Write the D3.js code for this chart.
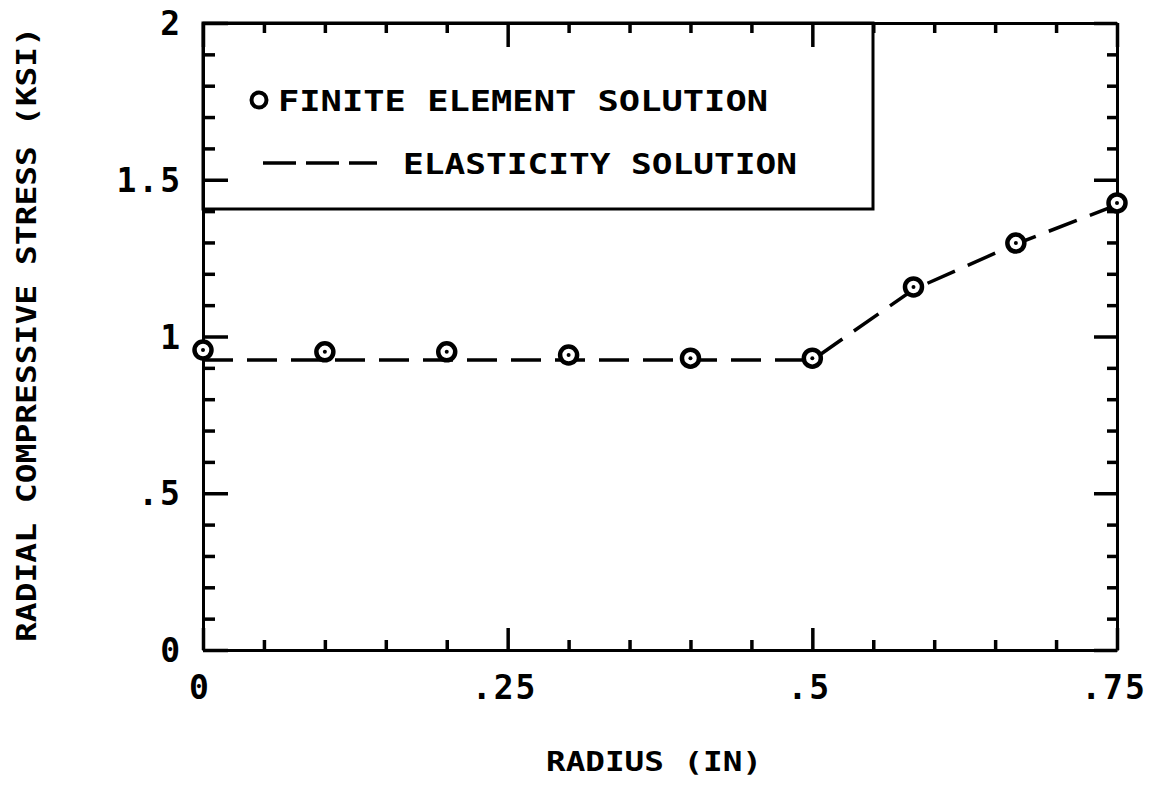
<!DOCTYPE html>
<html>
<head>
<meta charset="utf-8">
<script src="https://cdn.jsdelivr.net/npm/d3@7"></script>
<style>
  body { margin: 0; background: #fff; }
  text { font-family: "DejaVu Sans Mono", monospace; font-weight: bold; fill: #000; }
</style>
</head>
<body>
<svg id="chart"></svg>
<script>
// finite element points
const feRadius = [0, 0.1, 0.2, 0.3, 0.4, 0.5, 0.583, 0.667, 0.75];
const feStress = [0.957, 0.951, 0.951, 0.941, 0.931, 0.931, 1.158, 1.298, 1.426];

// elasticity solution (dashed)
const elRadius = [0, 0.5, 0.583, 0.667, 0.75];
const elStress = [0.925, 0.925, 1.15, 1.295, 1.42];

const xTicks = [0, 0.25, 0.5, 0.75];
const xTickLabels = ["0", ".25", ".5", ".75"];
const yTicks = [0, 0.5, 1, 1.5, 2];
const yTickLabels = ["0", ".5", "1", "1.5", "2"];

const width = 1151, height = 786;
const svg = d3.select("#chart").attr("width", width).attr("height", height);

const x = d3.scaleLinear().domain([0, 0.75]).range([203, 1117]);
const y = d3.scaleLinear().domain([0, 2]).range([650, 23]);

const xMinor = d3.range(0, 0.7501, 0.05);
const yMinor = d3.range(0, 2.0001, 0.1);
const isMajor = (v, list) => list.some(t => Math.abs(t - v) < 1e-6);

// legend box (behind the axes ticks)
svg.append("rect")
    .attr("x", x(0)).attr("y", y(2))
    .attr("width", 873 - x(0)).attr("height", 209 - y(2))
    .attr("fill", "#fff").attr("stroke", "#000").attr("stroke-width", 3);

// inward ticks on all four sides
const axB = d3.axisBottom(x), axT = d3.axisTop(x), axL = d3.axisLeft(y), axR = d3.axisRight(y);
function addAxis(axis, transform, minorVals, majorVals, majorLen, minorLen) {
    const g = svg.append("g").attr("transform", transform)
        .call(axis.tickValues(minorVals).tickFormat("").tickSizeOuter(0).tickSize(0));
    g.selectAll(".tick line")
        .attr("stroke-width", 3.5)
        .each(function(d) {
            const len = isMajor(d, majorVals) ? majorLen : minorLen;
            const l = d3.select(this);
            if (axis === axB || axis === axT) l.attr("y2", axis === axB ? -len : len);
            else l.attr("x2", axis === axL ? len : -len);
        });
    g.select(".domain").attr("stroke-width", 3);
    return g;
}
addAxis(axB, `translate(0,${y(0)})`, xMinor, xTicks, 22, 10);
addAxis(axT, `translate(0,${y(2)})`, xMinor, xTicks, 24, 10);
addAxis(axL, `translate(${x(0)},0)`, yMinor, yTicks, 25, 12);
addAxis(axR, `translate(${x(0.75)},0)`, yMinor, yTicks, 23, 10);

// tick labels
svg.append("g").selectAll("text")
    .data(xTicks)
    .join("text")
    .attr("x", d => x(d) - 3)
    .attr("y", 699)
    .attr("text-anchor", "middle")
    .style("font-size", "33px")
    .style("letter-spacing", "2px")
    .text((d, i) => xTickLabels[i]);

svg.append("g").selectAll("text")
    .data(yTicks)
    .join("text")
    .attr("x", 182)
    .attr("y", d => y(d) + 12)
    .attr("text-anchor", "end")
    .style("font-size", "33px")
    .style("letter-spacing", "2px")
    .text((d, i) => yTickLabels[i]);

// axis titles
svg.append("text")
    .attr("x", 546).attr("y", 771)
    .attr("textLength", 216).attr("lengthAdjust", "spacingAndGlyphs")
    .style("font-size", "26px")
    .text("RADIUS (IN)");

svg.append("text")
    .attr("transform", "translate(36,642) rotate(-90)")
    .attr("textLength", 615).attr("lengthAdjust", "spacingAndGlyphs")
    .style("font-size", "26px")
    .text("RADIAL COMPRESSIVE STRESS (KSI)");

// elasticity line
const line = d3.line().x(d => x(d[0])).y(d => y(d[1]));
svg.append("path")
    .datum(elRadius.map((r, i) => [r, elStress[i]]))
    .attr("d", line)
    .attr("fill", "none").attr("stroke", "#000")
    .attr("stroke-width", 3.5)
    .attr("stroke-dasharray", "30,14");

// finite element markers
const pts = feRadius.map((r, i) => [r, feStress[i]]);
svg.append("g").selectAll("circle")
    .data(pts)
    .join("circle")
    .attr("cx", d => x(d[0])).attr("cy", d => y(d[1]))
    .attr("r", 8.5)
    .attr("fill", "#fff").attr("stroke", "#000").attr("stroke-width", 4.5);
svg.append("g").selectAll("circle")
    .data(pts)
    .join("circle")
    .attr("cx", d => x(d[0])).attr("cy", d => y(d[1]))
    .attr("r", 2).attr("fill", "#000");

// legend entries
svg.append("circle")
    .attr("cx", 259).attr("cy", 100).attr("r", 7.5)
    .attr("fill", "none").attr("stroke", "#000").attr("stroke-width", 4);
svg.append("text")
    .attr("x", 278).attr("y", 111)
    .attr("textLength", 490).attr("lengthAdjust", "spacingAndGlyphs")
    .style("font-size", "29px")
    .text("FINITE ELEMENT SOLUTION");

svg.append("line")
    .attr("x1", 263).attr("x2", 377).attr("y1", 163).attr("y2", 163)
    .attr("stroke", "#000").attr("stroke-width", 3.5)
    .attr("stroke-dasharray", "33,10");
svg.append("text")
    .attr("x", 403).attr("y", 174)
    .attr("textLength", 394).attr("lengthAdjust", "spacingAndGlyphs")
    .style("font-size", "29px")
    .text("ELASTICITY SOLUTION");
</script>
</body>
</html>
